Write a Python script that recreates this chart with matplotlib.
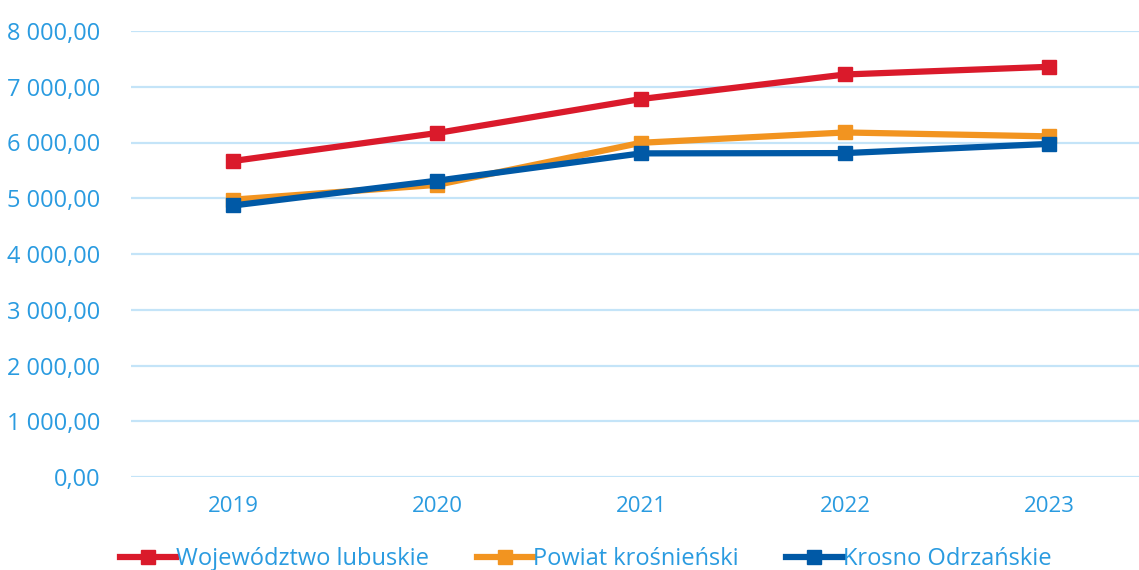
import matplotlib
matplotlib.use('Agg')
import matplotlib.pyplot as plt
from matplotlib.ticker import FuncFormatter

# data
years = ['2019', '2020', '2021', '2022', '2023']
woj_lubuskie = [5668, 6170, 6780, 7220, 7358]
powiat_krosnienski = [4975, 5240, 5995, 6180, 6110]
krosno_odrzanskie = [4870, 5315, 5805, 5810, 5975]

series_names = ['Województwo lubuskie', 'Powiat krośnieński', 'Krosno Odrzańskie']
colors = ['#da1a2b', '#f29420', '#0059a6']
y_ticks = [0, 1000, 2000, 3000, 4000, 5000, 6000, 7000, 8000]

TEXT_BLUE = '#2a9be0'
GRID_BLUE = '#c4e4f8'

plt.rcParams['font.family'] = ['Open Sans', 'DejaVu Sans']

fig = plt.figure(figsize=(11.39, 5.70), dpi=100)
ax = fig.add_axes([131 / 1139, 93 / 570, 1008 / 1139, 446 / 570])

x = range(len(years))
for name, vals, c in zip(series_names,
                         [woj_lubuskie, powiat_krosnienski, krosno_odrzanskie],
                         colors):
    ax.plot(x, vals, '-s', color=c, linewidth=4.5, markersize=10,
            label=name, solid_joinstyle='miter')

ax.set_ylim(0, 8000)
ax.set_xlim(-0.5, 4.44)
ax.set_yticks(y_ticks)
ax.yaxis.set_major_formatter(
    FuncFormatter(lambda v, p: f'{v:,.2f}'.replace(',', ' ').replace('.', ',')))
ax.set_xticks(list(x))
ax.set_xticklabels(years)

ax.grid(axis='y', color=GRID_BLUE, linewidth=1.6)
ax.set_axisbelow(True)
for s in ax.spines.values():
    s.set_visible(False)
ax.tick_params(axis='both', length=0, colors=TEXT_BLUE, labelsize=16)
ax.tick_params(axis='y', pad=22, labelsize=17)
ax.tick_params(axis='x', pad=14)

leg = ax.legend(loc='upper center', bbox_to_anchor=(0.451, -0.11), ncol=3,
                frameon=False, fontsize=17, handlelength=2.4, handletextpad=0.0,
                columnspacing=2.0, labelcolor=TEXT_BLUE)

fig.savefig('out.png', dpi=100)
